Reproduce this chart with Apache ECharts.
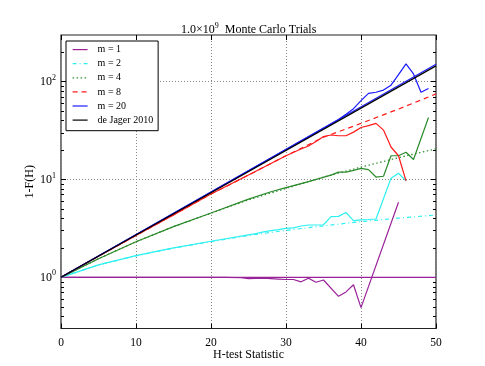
<!DOCTYPE html>
<html><head><meta charset="utf-8">
<script src="https://cdn.jsdelivr.net/npm/echarts@6/dist/echarts.min.js"></script>
<style>html,body{margin:0;padding:0;background:#fff}#c{width:485px;height:366px}</style>
</head><body><div id="c"></div>
<script>
// ---- data ----
const legendNames = ['m = 1', 'm = 2', 'm = 4', 'm = 8', 'm = 20', 'de Jager 2010'];
const xTicks = [0, 10, 20, 30, 40, 50];
const yMajorTicks = [1, 10, 100];
const yMinorTicks = [0.4, 0.5, 0.6, 0.7, 0.8, 0.9, 2, 3, 4, 5, 6, 7, 8, 9, 20, 30, 40, 50, 60, 70, 80, 90, 200];

// analytic curves
const anaH  = [0, 5, 10, 15, 20, 25, 30, 35, 40, 45, 50];
const m1Ana = [1, 1, 1, 1, 1, 1, 1, 1, 1, 1, 1];
const m2Ana = [1, 1.34, 1.66, 1.99, 2.31, 2.68, 3.02, 3.36, 3.71, 4.03, 4.34];
const m4Ana = [1, 1.55, 2.31, 3.3, 4.52, 6.2, 8.1, 10.6, 13.4, 16.7, 20.6];
const m8Ana = [1, 1.64, 2.68, 4.35, 7.1, 11.1, 17.5, 27, 37.5, 52.5, 75];
const lineH = [0, 50];
const m20Ana = [1, 151];
const deJager = [1, 145];

// Monte Carlo results
const m1SimH = [0, 22, 24, 25, 27, 29, 30, 31, 32, 33, 34, 35, 37, 38, 39, 40, 45];
const m1Sim  = [1, 1, 0.99, 0.97, 0.98, 0.96, 0.95, 0.95, 0.90, 0.98, 0.89, 0.94, 0.64, 0.71, 0.84, 0.49, 5.85];
const m2SimH = [0, 5, 10, 15, 20, 25, 26, 27, 28, 29, 30, 31, 32, 33, 34, 35, 36, 37, 38, 39, 40, 41, 42, 44, 45, 46];
const m2Sim  = [1, 1.34, 1.67, 2.0, 2.34, 2.72, 2.8, 2.92, 3.0, 3.08, 3.17, 3.2, 3.35, 3.43, 3.43, 3.45, 4.17, 4.2, 4.6, 3.8, 3.86, 3.9, 3.95, 10.3, 11.6, 9.7];
const m4SimH = [0, 5, 10, 15, 20, 25, 28, 30, 33, 36, 37, 38, 39, 40, 41, 42, 43, 44, 45, 46, 47, 49];
const m4Sim  = [1, 1.55, 2.31, 3.3, 4.55, 6.3, 7.5, 8.25, 9.5, 11.1, 11.9, 11.9, 12.4, 13.0, 12.6, 10.6, 10.8, 17.5, 17.5, 19.0, 16.0, 43];
const m8SimH = [0, 5, 10, 15, 20, 25, 30, 32, 33, 34, 35, 36, 37, 38, 39, 40, 41, 42, 43, 44, 45, 46];
const m8Sim  = [1, 1.64, 2.68, 4.35, 7.1, 11.1, 17.5, 20.5, 22, 24.5, 27.5, 28.5, 28, 28, 30.5, 34, 35.5, 37.5, 32, 21.5, 17.5, 9.7];
const m20SimH = [0, 37, 38, 39, 40, 41, 42, 43, 44, 45, 46, 47, 48, 49];
const m20Sim  = [1, 41, 46.5, 53, 64, 76, 78, 82, 92, 118, 152, 120, 78, 85];

// ---- styling ----
const colors = ['#992299', '#2ef0f0', '#2a8a2a', '#ff1a1a', '#1a1aff', '#000000'];
const dashes = ['solid', [4, 3, 1, 3], [1.5, 2.5], [5, 4], 'solid', 'solid'];
const FONT = '"Liberation Serif", "DejaVu Serif", serif';

function pairs(hs, vs) { return hs.map((h, i) => [h, vs[i]]); }

function lineSeries(name, hs, vs, idx, dashed, z) {
  return {
    name: name, type: 'line', data: pairs(hs, vs), symbol: 'none', showSymbol: false,
    smooth: false, animation: false, z: z || 2,
    lineStyle: { color: colors[idx], width: 1.2, type: dashed ? dashes[idx] : 'solid' },
    itemStyle: { color: colors[idx] },
    emphasis: { disabled: true }
  };
}

const series = [
  lineSeries(legendNames[0], anaH, m1Ana, 0, true),
  lineSeries(legendNames[1], anaH, m2Ana, 1, true),
  lineSeries(legendNames[2], anaH, m4Ana, 2, true),
  lineSeries(legendNames[3], anaH, m8Ana, 3, true),
  lineSeries(legendNames[4], lineH, m20Ana, 4, true),
  lineSeries(legendNames[5], lineH, deJager, 5, true, 3),
  lineSeries('sim m = 1', m1SimH, m1Sim, 0, false),
  lineSeries('sim m = 2', m2SimH, m2Sim, 1, false),
  lineSeries('sim m = 4', m4SimH, m4Sim, 2, false),
  lineSeries('sim m = 8', m8SimH, m8Sim, 3, false),
  lineSeries('sim m = 20', m20SimH, m20Sim, 4, false)
];

function isPow10(v) { const l = Math.log10(v); return Math.abs(l - Math.round(l)) < 1e-6; }

function yAx(pos, minor, labels) {
  return {
    type: 'log', logBase: 10, min: 0.3, max: 300, position: pos,
    axisLine: { show: false },
    axisTick: { show: true, inside: true, length: minor ? 3 : 5,
      lineStyle: { color: '#000', width: 1 },
      customValues: minor ? yMinorTicks : yMajorTicks },
    axisLabel: labels ? {
      show: true, customValues: yMajorTicks, margin: 5, color: '#000',
      formatter: function (v) {
        if (!isPow10(v)) return '';
        return '{b|10}{s|' + Math.round(Math.log10(v)) + '}';
      },
      rich: {
        b: { fontFamily: FONT, fontSize: 12, color: '#000' },
        s: { fontFamily: FONT, fontSize: 8, color: '#000', padding: [0, 0, 8, 0] }
      }
    } : { show: false },
    splitLine: labels ? { show: true, lineStyle: { color: '#888', type: [1, 2], width: 1 } } : { show: false },
    name: labels ? '1-F(H)' : '',
    nameLocation: 'middle', nameGap: 25, nameMoveOverlap: false,
    nameTextStyle: { fontFamily: FONT, fontSize: 12, color: '#000' }
  };
}

const option = {
  animation: false,
  backgroundColor: '#fff',
  title: {
    text: '{a|1.0×10}{s|9}{a|  Monte Carlo Trials}',
    left: 176, top: 17,
    textStyle: {
      fontWeight: 'normal',
      rich: {
        a: { fontFamily: FONT, fontSize: 12, color: '#000', fontWeight: 'normal' },
        s: { fontFamily: FONT, fontSize: 8, color: '#000', fontWeight: 'normal', padding: [0, 0, 8, 0] }
      }
    }
  },
  legend: {
    data: legendNames, orient: 'vertical', left: 66, top: 41,
    itemWidth: 15, itemHeight: 14, itemGap: 2.9,
    padding: [3, 5, 5, 6],
    borderColor: '#000', borderWidth: 1, backgroundColor: '#fff',
    itemStyle: { opacity: 0 },
    lineStyle: { width: 1.2 },
    textStyle: { fontFamily: FONT, fontSize: 10, color: '#000', padding: [0, 0, 0, 5] },
    selectedMode: false, z: 10
  },
  grid: { left: 61, right: 49, top: 35, bottom: 37.5, show: true, borderColor: '#222', borderWidth: 1.2, containLabel: false },
  xAxis: [
    {
      type: 'value', min: 0, max: 50, interval: 10, position: 'bottom',
      axisLine: { show: false },
      axisTick: { show: true, inside: true, length: 5, lineStyle: { color: '#000' } },
      axisLabel: { fontFamily: FONT, fontSize: 11.5, color: '#000', margin: 8.5,
        customValues: xTicks },
      splitLine: { show: true, lineStyle: { color: '#888', type: [1, 2], width: 1 } },
      name: 'H-test Statistic', nameLocation: 'middle', nameGap: 20.5, nameMoveOverlap: false,
      nameTextStyle: { fontFamily: FONT, fontSize: 12, color: '#000' }
    },
    {
      type: 'value', min: 0, max: 50, interval: 10, position: 'top',
      axisLine: { show: false },
      axisTick: { show: true, inside: true, length: 5, lineStyle: { color: '#000' } },
      axisLabel: { show: false }, splitLine: { show: false }
    }
  ],
  yAxis: [yAx('left', false, true), yAx('left', true, false), yAx('right', false, false), yAx('right', true, false)],
  series: series
};

const chart = echarts.init(document.getElementById('c'), null, { renderer: 'canvas' });
chart.setOption(option);
</script>
</body></html>
